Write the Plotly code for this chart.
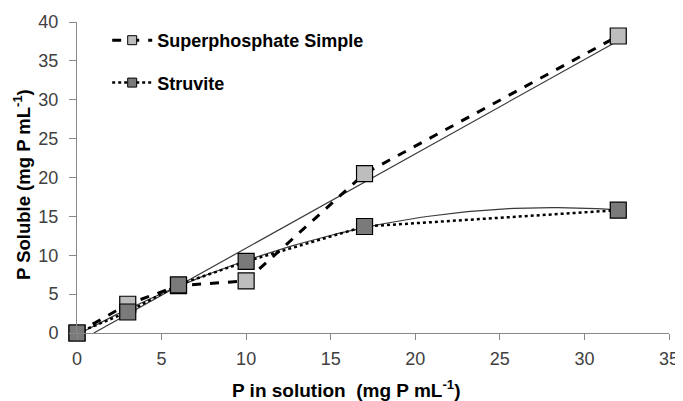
import numpy as np
import plotly.graph_objects as go

x_vals = [0, 3, 6, 10, 17, 32]
sp_vals = [0, 3.7, 6.1, 6.7, 20.5, 38.2]
st_vals = [0, 2.7, 6.2, 9.2, 13.7, 15.8]
x_ticks = [0, 5, 10, 15, 20, 25, 30, 35]
y_ticks = [0, 5, 10, 15, 20, 25, 30, 35, 40]
names = ["Superphosphate Simple", "Struvite"]
x_title = "<b>P in solution  (mg P mL<sup>-1</sup>)</b>"
y_title = "<b>P Soluble (mg P mL<sup>-1</sup>)</b>"

FONT = "Arial, Liberation Sans, sans-serif"
fig = go.Figure()

# Trendlines (linear for superphosphate, quadratic for struvite)
m, b = np.polyfit(x_vals, sp_vals, 1)
x0 = max(0.0, -b / m)
xl = np.linspace(x0, max(x_vals), 50)
fig.add_trace(go.Scatter(x=xl, y=m * xl + b, mode="lines",
                         line=dict(color="#3a3a3a", width=1.2),
                         showlegend=False, hoverinfo="skip"))
c = np.polyfit(x_vals, st_vals, 2)
xq = np.linspace(0, max(x_vals), 100)
fig.add_trace(go.Scatter(x=xq, y=np.polyval(c, xq), mode="lines",
                         line=dict(color="#3a3a3a", width=1.2),
                         showlegend=False, hoverinfo="skip"))

styles = [
    dict(line=dict(color="black", width=3, dash="dash"), fill="#bdbdbd"),
    dict(line=dict(color="black", width=2.5, dash="dot"), fill="#7a7a7a"),
]
for name, ys, st, grp in zip(names, [sp_vals, st_vals], styles, ["a", "b"]):
    fig.add_trace(go.Scatter(x=x_vals, y=ys, mode="lines+markers", name=name,
                             legendgroup=grp, showlegend=False,
                             line=st["line"],
                             marker=dict(symbol="square", size=16, color=st["fill"],
                                         line=dict(color="black", width=1.2)),
                             cliponaxis=False))
    # legend entry with small marker, as in the reference
    fig.add_trace(go.Scatter(x=[None], y=[None], mode="lines+markers",
                             name=f"<b>{name}</b>", legendgroup=grp,
                             line=st["line"],
                             marker=dict(symbol="square", size=9, color=st["fill"],
                                         line=dict(color="black", width=1))))

fig.update_layout(
    width=675, height=393,
    margin=dict(l=69, r=14, t=14, b=68, autoexpand=False),
    plot_bgcolor="white", paper_bgcolor="white",
    font=dict(family=FONT, color="#222"),
    legend=dict(x=0.051, y=1.0, xanchor="left", yanchor="top",
                bgcolor="rgba(0,0,0,0)", tracegroupgap=16,
                font=dict(size=18, color="black", family=FONT),
                itemwidth=40),
    showlegend=True,
    annotations=[
        dict(text=x_title, xref="paper", yref="paper", x=0.456, y=-0.18,
             xanchor="center", yanchor="middle", showarrow=False,
             font=dict(size=19, color="black", family=FONT)),
        dict(text=y_title, xref="paper", yref="paper", x=-0.093, y=0.479,
             xanchor="center", yanchor="middle", showarrow=False, textangle=-90,
             font=dict(size=18.5, color="black", family=FONT)),
    ],
)
fig.update_xaxes(range=[0, 35], tickvals=x_ticks, showgrid=False, zeroline=False,
                 showline=True, linecolor="#888", linewidth=1,
                 ticks="outside", ticklen=6, tickcolor="#888", ticklabelstandoff=3,
                 tickfont=dict(size=18, color="#404040"))
fig.update_yaxes(range=[0, 40], tickvals=y_ticks, showgrid=False, zeroline=False,
                 showline=True, linecolor="#888", linewidth=1,
                 ticks="outside", ticklen=7, tickcolor="#888", ticklabelstandoff=7,
                 tickfont=dict(size=18, color="#404040"))

fig.write_html("out.html")
